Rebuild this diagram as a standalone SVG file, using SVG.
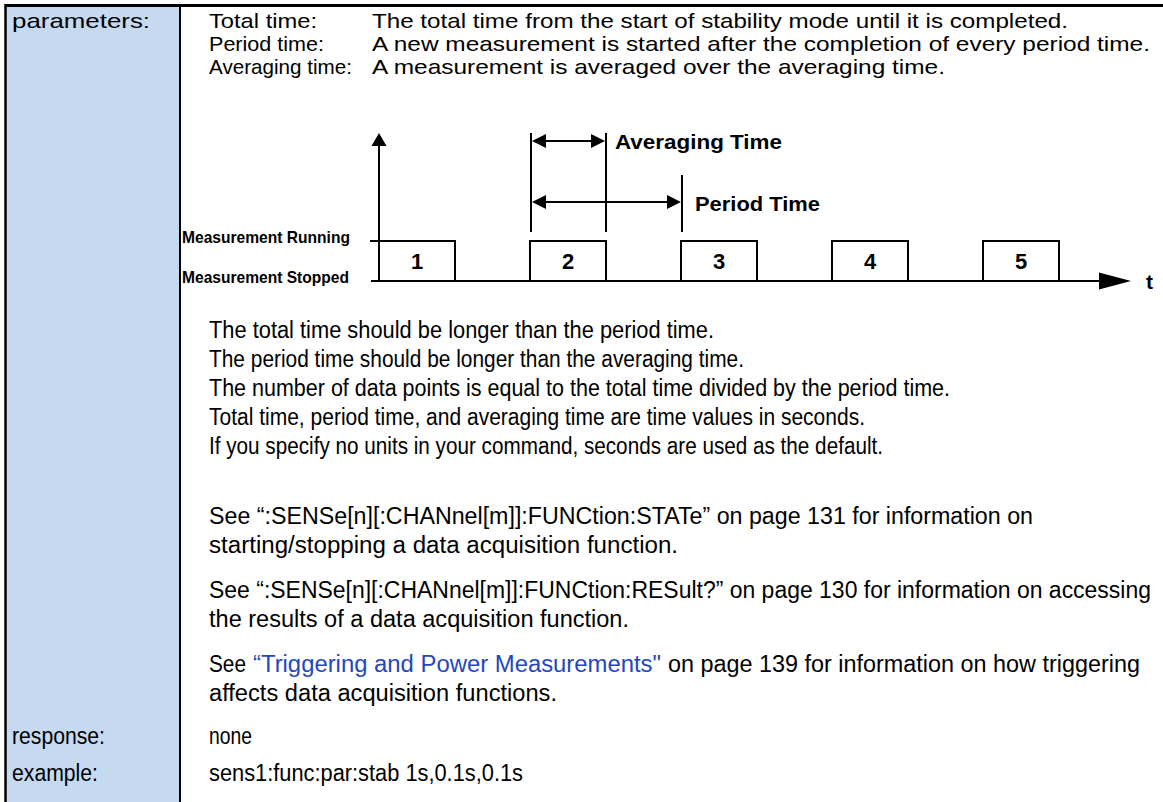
<svg xmlns="http://www.w3.org/2000/svg" width="1163" height="802" viewBox="0 0 1163 802">
<defs>
<style>
.t{font-family:"Liberation Sans Narrow","Liberation Sans",Arial,sans-serif;font-size:23px;fill:#000}
.s{font-size:21px}
.bd{font-family:"Liberation Sans Narrow","Liberation Sans",Arial,sans-serif;font-weight:bold;fill:#000}
.lk{fill:#2347c0}
.ln{stroke:#000;stroke-width:2;fill:none}
.ah{fill:#000;stroke:none}
</style>
</defs>
<rect x="0" y="0" width="1163" height="802" fill="#fff"/>
<g id="table">
<rect x="5" y="5" width="175" height="797" fill="#c5d9f1"/>
<line x1="5" y1="5.5" x2="1163" y2="5.5" stroke="#000" stroke-width="3"/>
<line x1="5.5" y1="4" x2="5.5" y2="802" stroke="#000" stroke-width="2.5"/>
<line x1="180" y1="5" x2="180" y2="802" stroke="#000" stroke-width="2"/>
</g>
<g id="labels">
<text class="t s" x="12" y="28" textLength="138" lengthAdjust="spacingAndGlyphs">parameters:</text>
<text class="t" x="12" y="744" textLength="93" lengthAdjust="spacingAndGlyphs">response:</text>
<text class="t" x="12" y="781" textLength="86" lengthAdjust="spacingAndGlyphs">example:</text>
</g>
<g id="param-defs">
<text class="t s" x="209" y="28" textLength="108" lengthAdjust="spacingAndGlyphs">Total time:</text>
<text class="t s" x="209" y="51" textLength="115" lengthAdjust="spacingAndGlyphs">Period time:</text>
<text class="t s" x="209" y="74" textLength="143" lengthAdjust="spacingAndGlyphs">Averaging time:</text>
<text class="t s" x="372" y="28" textLength="696" lengthAdjust="spacingAndGlyphs">The total time from the start of stability mode until it is completed.</text>
<text class="t s" x="372" y="51" textLength="778" lengthAdjust="spacingAndGlyphs">A new measurement is started after the completion of every period time.</text>
<text class="t s" x="372" y="74" textLength="573" lengthAdjust="spacingAndGlyphs">A measurement is averaged over the averaging time.</text>
</g>
<g id="connectors">
<line class="ln" x1="379" y1="144" x2="379" y2="281"/>
<polygon class="ah" points="379,133 371.5,146 386.5,146"/>
<line class="ln" x1="371" y1="281" x2="1102" y2="281"/>
<polygon class="ah" points="1131,281 1099,272.5 1099,289.5"/>
<line class="ln" x1="370" y1="241" x2="379" y2="241"/>
<line class="ln" x1="531" y1="133" x2="531" y2="232"/>
<line class="ln" x1="606" y1="133" x2="606" y2="232"/>
<line class="ln" x1="682" y1="175" x2="682" y2="232"/>
<line class="ln" x1="543" y1="141" x2="594" y2="141"/>
<polygon class="ah" points="532,141 546,134 546,148"/>
<polygon class="ah" points="605,141 591,134 591,148"/>
<line class="ln" x1="543" y1="202" x2="670" y2="202"/>
<polygon class="ah" points="532,202 546,195 546,209"/>
<polygon class="ah" points="681,202 667,195 667,209"/>
</g>
<g id="pulses">
<polyline class="ln" points="379,281 379,241 455,241 455,281"/>
<polyline class="ln" points="530,281 530,241 606,241 606,281"/>
<polyline class="ln" points="681,281 681,241 757,241 757,281"/>
<polyline class="ln" points="832,281 832,241 908,241 908,281"/>
<polyline class="ln" points="983,281 983,241 1059,241 1059,281"/>
</g>
<g id="diagram-text">
<text class="bd" x="417" y="269" font-size="22" text-anchor="middle">1</text>
<text class="bd" x="568" y="269" font-size="22" text-anchor="middle">2</text>
<text class="bd" x="719" y="269" font-size="22" text-anchor="middle">3</text>
<text class="bd" x="870" y="269" font-size="22" text-anchor="middle">4</text>
<text class="bd" x="1021" y="269" font-size="22" text-anchor="middle">5</text>
<text class="bd" x="182" y="243" font-size="17" textLength="168" lengthAdjust="spacingAndGlyphs">Measurement Running</text>
<text class="bd" x="182" y="283" font-size="17" textLength="167" lengthAdjust="spacingAndGlyphs">Measurement Stopped</text>
<text class="bd" x="615" y="149" font-size="21" textLength="167" lengthAdjust="spacingAndGlyphs">Averaging Time</text>
<text class="bd" x="695" y="211" font-size="21" textLength="125" lengthAdjust="spacingAndGlyphs">Period Time</text>
<text class="bd" x="1146" y="289" font-size="21">t</text>
</g>
<g id="notes">
<text class="t" x="209" y="338" textLength="505" lengthAdjust="spacingAndGlyphs">The total time should be longer than the period time.</text>
<text class="t" x="209" y="367" textLength="535" lengthAdjust="spacingAndGlyphs">The period time should be longer than the averaging time.</text>
<text class="t" x="209" y="396" textLength="741" lengthAdjust="spacingAndGlyphs">The number of data points is equal to the total time divided by the period time.</text>
<text class="t" x="209" y="425" textLength="656" lengthAdjust="spacingAndGlyphs">Total time, period time, and averaging time are time values in seconds.</text>
<text class="t" x="209" y="454" textLength="674" lengthAdjust="spacingAndGlyphs">If you specify no units in your command, seconds are used as the default.</text>
<text class="t" x="209" y="524" textLength="824" lengthAdjust="spacingAndGlyphs">See “:SENSe[n][:CHANnel[m]]:FUNCtion:STATe” on page 131 for information on</text>
<text class="t" x="209" y="553" textLength="469" lengthAdjust="spacingAndGlyphs">starting/stopping a data acquisition function.</text>
<text class="t" x="209" y="598" textLength="942" lengthAdjust="spacingAndGlyphs">See “:SENSe[n][:CHANnel[m]]:FUNCtion:RESult?” on page 130 for information on accessing</text>
<text class="t" x="209" y="627" textLength="420" lengthAdjust="spacingAndGlyphs">the results of a data acquisition function.</text>
<text class="t" x="209" y="672" textLength="37" lengthAdjust="spacingAndGlyphs">See</text>
<text class="t lk" x="253" y="672" textLength="408" lengthAdjust="spacingAndGlyphs">“Triggering and Power Measurements"</text>
<text class="t" x="668" y="672" textLength="472" lengthAdjust="spacingAndGlyphs">on page 139 for information on how triggering</text>
<text class="t" x="209" y="701" textLength="348" lengthAdjust="spacingAndGlyphs">affects data acquisition functions.</text>
<text class="t" x="209" y="744" textLength="43" lengthAdjust="spacingAndGlyphs">none</text>
<text class="t" x="209" y="781" textLength="314" lengthAdjust="spacingAndGlyphs">sens1:func:par:stab 1s,0.1s,0.1s</text>
</g>
</svg>
